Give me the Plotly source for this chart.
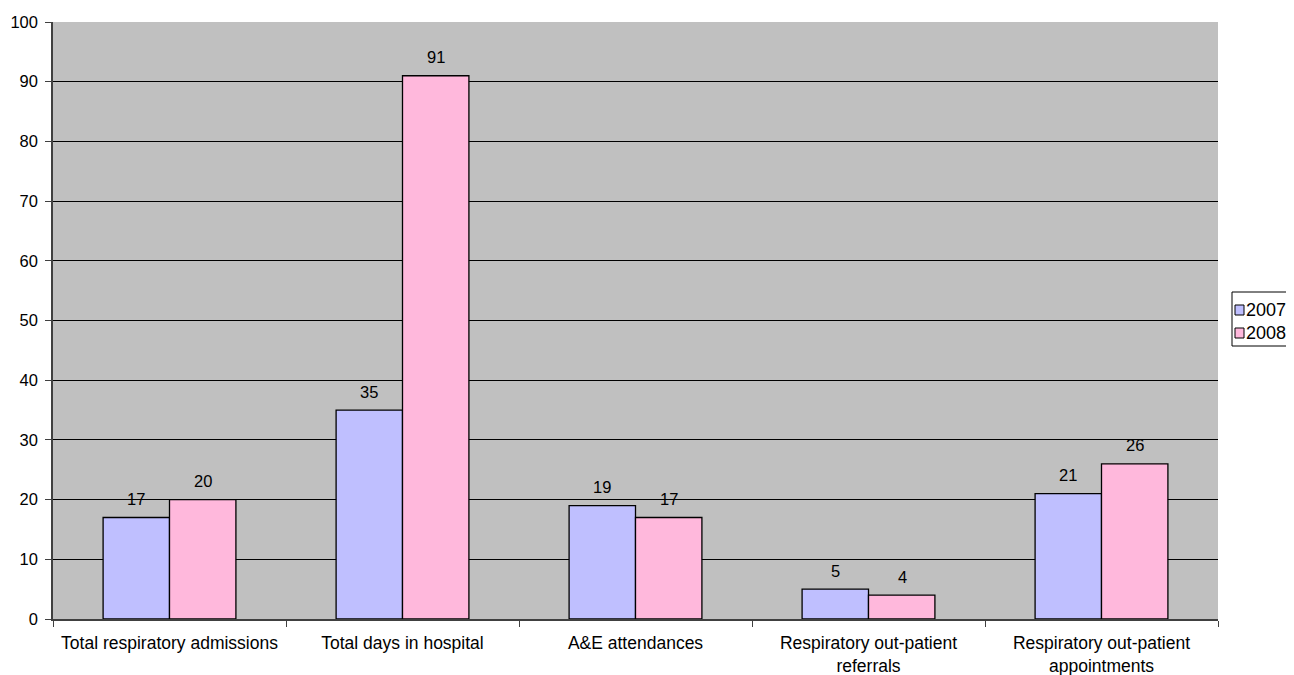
import plotly.graph_objects as go

categories = [
    "Total respiratory admissions",
    "Total days in hospital",
    "A&E attendances",
    "Respiratory out-patient<br>referrals",
    "Respiratory out-patient<br>appointments",
]
series_names = ["2007", "2008"]
values_2007 = [17, 35, 19, 5, 21]
values_2008 = [20, 91, 17, 4, 26]
colors = ["#BFBFFF", "#FFB8DC"]
y_ticks = list(range(0, 101, 10))

FONT = "Liberation Sans, Arial, sans-serif"
OFF = 8  # page body margin
W, H = 1294 - 2 * OFF, 675 - OFF
L, R, T, B = 53 - OFF, 68, 22 - OFF, 56
PW, PH = W - L - R, H - T - B

def px_x(px):
    return (px - OFF - L) / PW

def px_y(py):
    return (OFF + T + PH - py) / PH

fig = go.Figure()
for name, vals, col in zip(series_names, [values_2007, values_2008], colors):
    fig.add_trace(go.Bar(
        x=categories, y=vals, name=name,
        marker=dict(color=col, line=dict(color="black", width=1.3)),
        showlegend=False,
    ))

# data labels
annotations = []
for i, vals in enumerate([values_2007, values_2008]):
    for j, v in enumerate(vals):
        annotations.append(dict(
            x=j, y=v, xref="x", yref="y", text=str(v), showarrow=False,
            xshift=(-1 if i == 0 else 1) * 33.5, yshift=18.5, yanchor="middle",
            font=dict(family=FONT, size=16.5, color="black"),
        ))

# legend (manual, to match original layout)
shapes = [dict(type="rect", xref="paper", yref="paper",
               x0=px_x(1232), x1=px_x(1310), y0=px_y(346), y1=px_y(292),
               line=dict(color="black", width=1), fillcolor="white", layer="above")]
for k, (name, col) in enumerate(zip(series_names, colors)):
    cy = 310 + 23 * k
    shapes.append(dict(type="rect", xref="paper", yref="paper",
                       x0=px_x(1235), x1=px_x(1244), y0=px_y(cy + 5), y1=px_y(cy - 5),
                       line=dict(color="black", width=1), fillcolor=col, layer="above"))
    annotations.append(dict(x=px_x(1244), y=px_y(cy), xref="paper", yref="paper",
                            text=name, showarrow=False, xanchor="left", yanchor="middle",
                            font=dict(family=FONT, size=18, color="black")))

fig.update_layout(
    width=W, height=H,
    margin=dict(l=L, r=R, t=T, b=B),
    paper_bgcolor="white", plot_bgcolor="#C0C0C0",
    barmode="group", bargap=0.43, bargroupgap=0,
    font=dict(family=FONT, size=17, color="black"),
    showlegend=False,
    annotations=annotations, shapes=shapes,
)
fig.update_xaxes(
    showgrid=False, showline=True, linecolor="#404040", linewidth=1.5,
    ticks="outside", tickson="boundaries", ticklen=6, tickcolor="#404040",
    tickfont=dict(family=FONT, size=17.5), ticklabelstandoff=7, automargin=False,
)
fig.update_yaxes(
    range=[0, 100], tickvals=y_ticks, showgrid=True, gridcolor="black", gridwidth=1,
    showline=True, linecolor="#404040", linewidth=1.5, ticks="outside", ticklen=6,
    tickcolor="#404040", tickfont=dict(family=FONT, size=16.5), zeroline=False,
    ticklabelstandoff=4, automargin=False,
)

fig.write_html("out.html")
